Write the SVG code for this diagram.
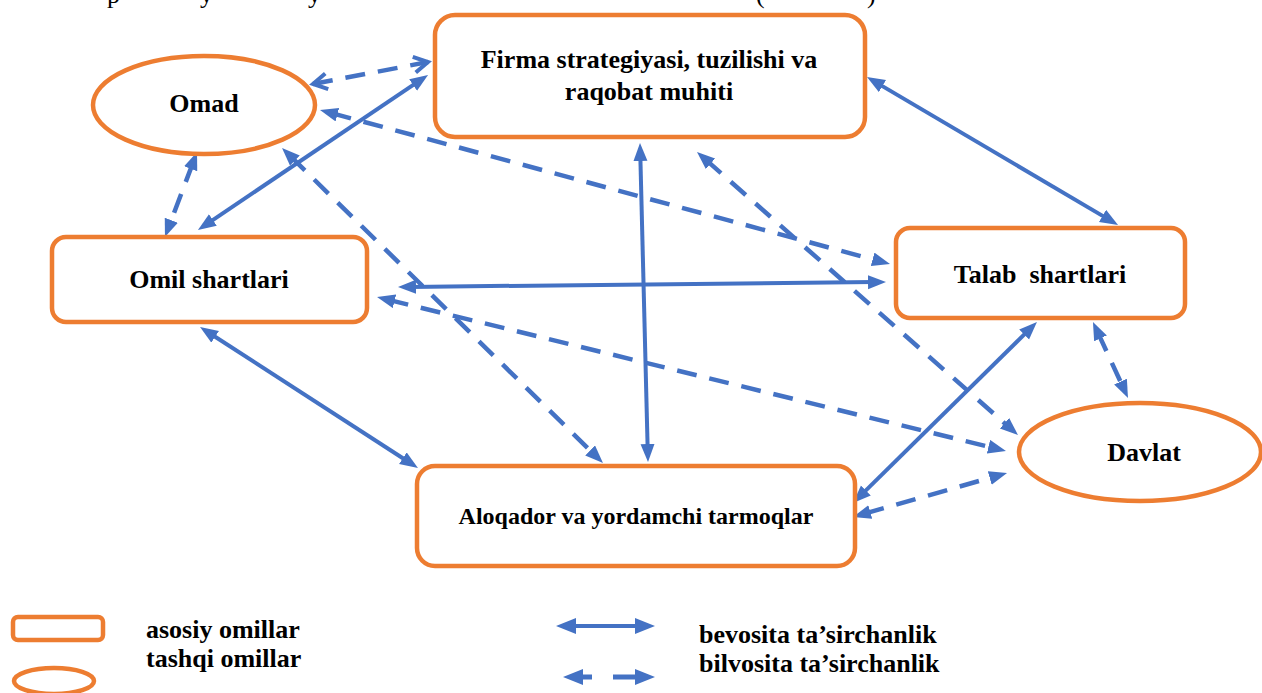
<svg xmlns="http://www.w3.org/2000/svg" width="1262" height="693" viewBox="0 0 1262 693">
<style>
.box{fill:#fff;stroke:#ED7D31;stroke-width:4.5}
.lbl{font-family:"Liberation Serif","Times New Roman",serif;font-weight:bold;font-size:26px;fill:#000;text-anchor:middle}
.leg{font-family:"Liberation Serif","Times New Roman",serif;font-weight:bold;font-size:26px;fill:#000}
.top{font-family:"Liberation Serif","Times New Roman",serif;font-size:26px;fill:#000}
.s{stroke:#4472C4;stroke-width:4;fill:none;marker-start:url(#ah);marker-end:url(#ah)}
.d{stroke:#4472C4;stroke-width:4.5;fill:none;stroke-dasharray:20 13;marker-start:url(#ah);marker-end:url(#ah)}
</style>
<defs>
<marker id="ah" markerUnits="userSpaceOnUse" markerWidth="20" markerHeight="16" refX="6" refY="7" orient="auto-start-reverse">
<path d="M0,0 L18,7 L0,14 z" fill="#4472C4"/>
</marker>
<marker id="ch" markerUnits="userSpaceOnUse" markerWidth="24" markerHeight="22" refX="17" refY="10" orient="auto-start-reverse" overflow="visible">
<path d="M3,2 L17,10 L3,18" fill="none" stroke="#4472C4" stroke-width="4"/>
</marker>
<marker id="lh" markerUnits="userSpaceOnUse" markerWidth="22" markerHeight="18" refX="6" refY="8" orient="auto-start-reverse">
<path d="M0,0 L20,8 L0,16 z" fill="#4472C4"/>
</marker>
</defs>

<text class="top" y="2.5"><tspan x="107">p</tspan><tspan x="200">y</tspan><tspan x="308">y</tspan><tspan x="756">(</tspan><tspan x="867">)</tspan></text>

<g id="connectors">
<path d="M313,84 L428,62" fill="none" stroke="#4472C4" stroke-width="4.5" stroke-dasharray="20 13" marker-start="url(#ch)" marker-end="url(#ch)"/>
<line class="s" x1="418.1" y1="81.7" x2="207.9" y2="223.3"/>
<line class="d" x1="192.8" y1="163.2" x2="169.2" y2="225.8"/>
<line class="d" x1="331.6" y1="113.1" x2="878.4" y2="260.9"/>
<line class="d" x1="290.6" y1="156.4" x2="594.4" y2="454.6"/>
<line class="d" x1="706" y1="159.9" x2="1009" y2="427.1"/>
<line class="s" x1="640.3" y1="155" x2="647.7" y2="450"/>
<line class="s" x1="877.3" y1="83.1" x2="1107.7" y2="218.9"/>
<line class="s" x1="410" y1="286.9" x2="874" y2="282.1"/>
<line class="d" x1="388.7" y1="299.9" x2="994.3" y2="448.1"/>
<line class="s" x1="210.1" y1="333.5" x2="407.9" y2="461.5"/>
<line class="s" x1="1028.4" y1="330.4" x2="861.6" y2="494.6"/>
<line class="d" x1="1098" y1="332.9" x2="1123" y2="387.1"/>
<line class="d" x1="864.5" y1="513.7" x2="995.5" y2="476.3"/>
</g>

<g id="firma">
<rect class="box" x="435" y="15" width="430" height="122" rx="20"/>
<text class="lbl" x="649" y="68">Firma strategiyasi, tuzilishi va</text>
<text class="lbl" x="649" y="100">raqobat muhiti</text>
</g>
<g id="omad">
<ellipse class="box" cx="204" cy="105" rx="111" ry="49"/>
<text class="lbl" x="204" y="112">Omad</text>
</g>
<g id="omil">
<rect class="box" x="52" y="237" width="315" height="85" rx="14"/>
<text class="lbl" x="209" y="288">Omil shartlari</text>
</g>
<g id="talab">
<rect class="box" x="896" y="228" width="289" height="90" rx="14"/>
<text class="lbl" x="1040" y="283" xml:space="preserve">Talab  shartlari</text>
</g>
<g id="davlat">
<ellipse class="box" cx="1140" cy="452" rx="121" ry="49"/>
<text class="lbl" x="1144" y="461">Davlat</text>
</g>
<g id="aloqador">
<rect class="box" x="417" y="466" width="438" height="100" rx="18"/>
<text class="lbl" x="636" y="524" style="font-size:24px">Aloqador va yordamchi tarmoqlar</text>
</g>

<g id="legend">
<rect class="box" x="13" y="617" width="90" height="23" rx="5"/>
<ellipse class="box" cx="54" cy="681" rx="40" ry="13"/>
<text class="leg" x="146" y="638">asosiy omillar</text>
<text class="leg" x="146" y="667">tashqi omillar</text>
<line x1="570" y1="626" x2="641" y2="626" stroke="#4472C4" stroke-width="4" marker-start="url(#lh)" marker-end="url(#lh)"/>
<path d="M577,677 H592 M613,677 H641" stroke="#4472C4" stroke-width="5" fill="none" marker-start="url(#lh)" marker-end="url(#lh)"/>
<text class="leg" x="699" y="643">bevosita ta’sirchanlik</text>
<text class="leg" x="699" y="672">bilvosita ta’sirchanlik</text>
</g>
</svg>
